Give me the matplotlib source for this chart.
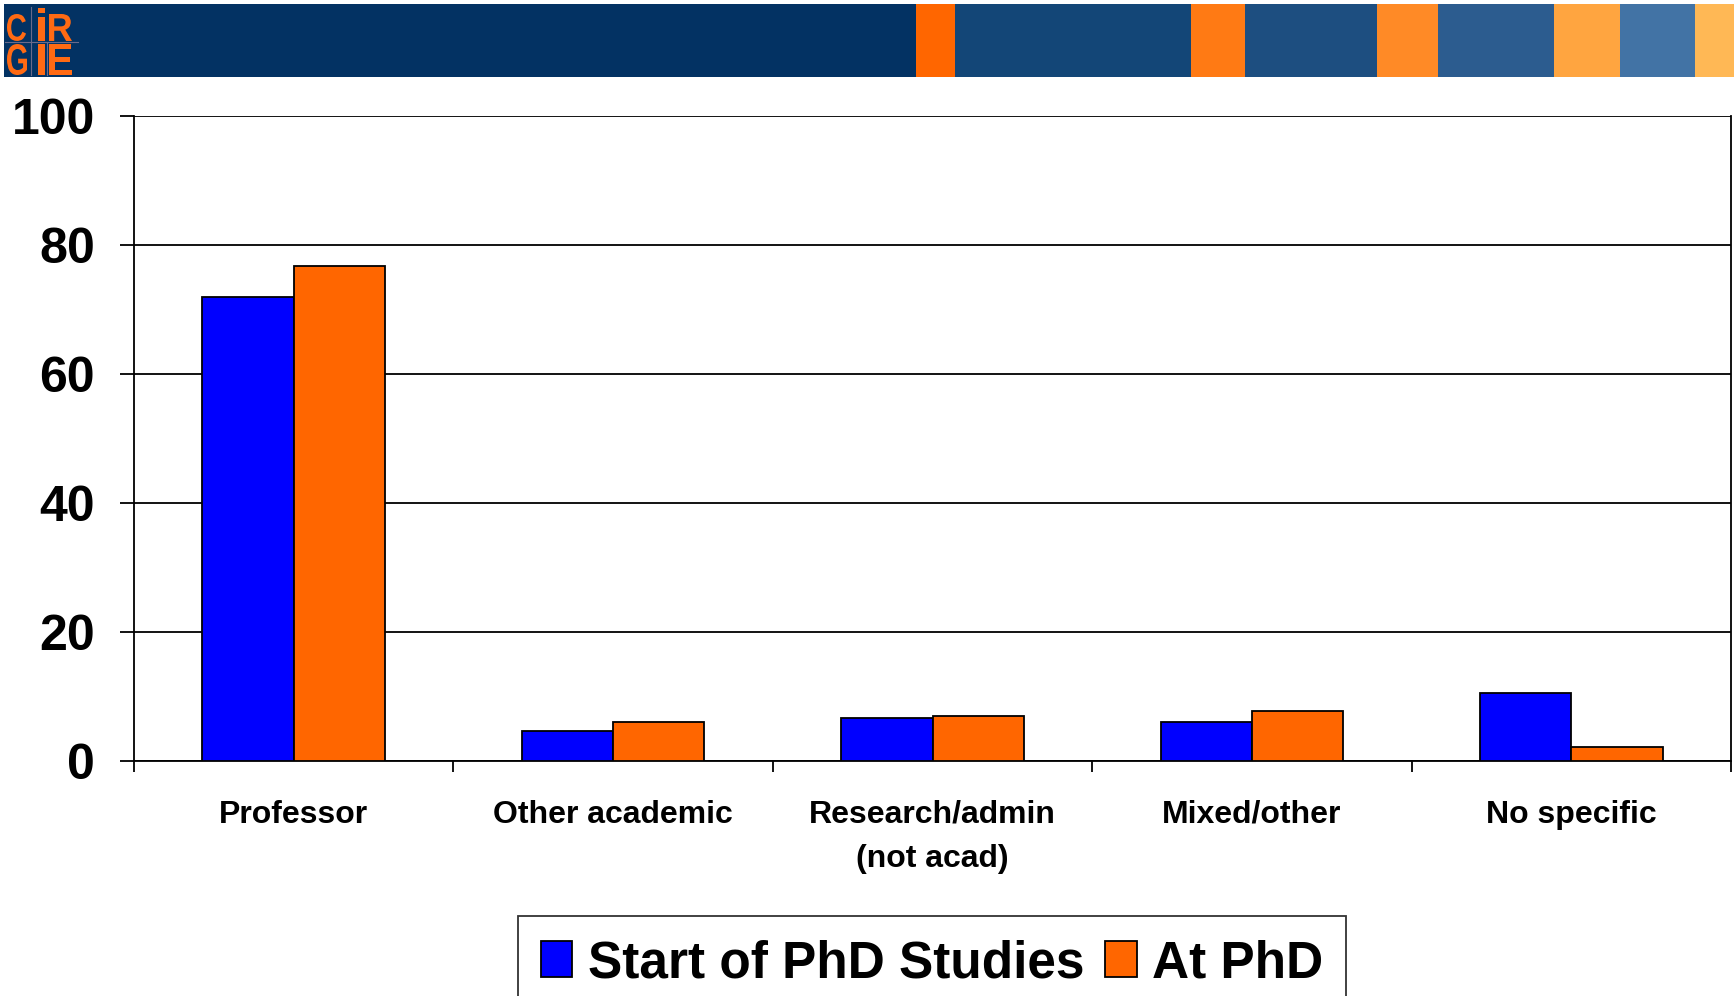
import matplotlib
matplotlib.use("Agg")
import matplotlib.pyplot as plt
from matplotlib.patches import Rectangle, PathPatch
from matplotlib.textpath import TextPath
from matplotlib.font_manager import FontProperties
from matplotlib.transforms import Affine2D
import numpy as np

categories = ["Professor", "Other academic", "Research/admin\n(not acad)", "Mixed/other", "No specific"]
start_phd = [72.0, 4.6, 6.7, 6.0, 10.5]
at_phd = [76.7, 6.0, 7.0, 7.7, 2.2]
series_names = ["Start of PhD Studies", "At PhD"]
series_colors = ["#0000FF", "#FF6600"]
y_ticks = [0, 20, 40, 60, 80, 100]

# decorative header banner (pixel edges, colors)
banner_edges = [4, 916, 955, 1191, 1245, 1377, 1438, 1554, 1620, 1695, 1734]
banner_colors = ["#033263", "#FF6600", "#134677", "#FF7A14", "#1D4E80",
                 "#FF8A26", "#2C5C8F", "#FFA540", "#4273A5", "#FFB855"]

plt.rcParams['font.family'] = ['Liberation Sans', 'DejaVu Sans']

W, H = 1734, 996
fig = plt.figure(figsize=(W / 100, H / 100), dpi=100)

# header banner (pixel coordinates: x 0..W, y 0..73 from bottom of banner)
BH = 73
bax = fig.add_axes([0, 1 - 77 / H, 1, BH / H])
bax.set_xlim(0, W)
bax.set_ylim(0, BH)
bax.axis("off")
for i, c in enumerate(banner_colors):
    bax.add_patch(Rectangle((banner_edges[i], 0), banner_edges[i + 1] - banner_edges[i], BH,
                            facecolor=c, edgecolor="none"))

fp = FontProperties(family="Liberation Sans", weight="bold")
# letter, left x, bottom y, width, height (pixels)
logo = [("C", 7, 36, 19, 27), ("i", 38, 36, 7, 33), ("R", 49, 36, 23, 27),
        ("G", 7, 2, 20, 31), ("I", 38, 2, 7, 31), ("E", 49, 2, 23, 31)]
for ch, lx, ly, lw_, lh in logo:
    tp = TextPath((0, 0), ch, size=100, prop=fp)
    ext = tp.get_extents()
    tr = (Affine2D().translate(-ext.x0, -ext.y0)
          .scale(lw_ / ext.width, lh / ext.height).translate(lx, ly))
    bax.add_patch(PathPatch(tr.transform_path(tp), facecolor="#FF6A13", edgecolor="none"))
bax.plot([5, 78], [34.5, 34.5], color="#6a6a8a", lw=0.8)
bax.plot([31, 31], [2, 70], color="#6a6a8a", lw=0.8)
bax.plot([47, 47], [2, 34], color="#6a6a8a", lw=0.8)

# main axes
left, right, top, bottom = 134, 1731, 116, 761
ax = fig.add_axes([left / W, 1 - bottom / H, (right - left) / W, (bottom - top) / H])

n = len(categories)
x = np.arange(n)
bw = 0.2857
ax.bar(x - bw / 2, start_phd, bw, color=series_colors[0], edgecolor="black", linewidth=1.3,
       label=series_names[0], zorder=3)
ax.bar(x + bw / 2, at_phd, bw, color=series_colors[1], edgecolor="black", linewidth=1.3,
       label=series_names[1], zorder=3)

ax.set_xlim(-0.5, n - 0.5)
ax.set_ylim(0, 100)
ax.set_yticks(y_ticks)
ax.set_yticklabels([str(v) for v in y_ticks], fontsize=36, fontweight="bold")
ax.yaxis.grid(True, color="black", linewidth=1.3, zorder=0)
ax.set_axisbelow(True)

ax.set_xticks(x)
ax.set_xticklabels(categories, fontsize=23, fontweight="bold", linespacing=1.6)
ax.set_xticks(np.arange(n + 1) - 0.5, minor=True)
ax.tick_params(axis="x", which="major", length=0, pad=28)
ax.tick_params(axis="x", which="minor", length=8, width=1.3, direction="out")
ax.tick_params(axis="y", which="major", length=10, width=1.3, direction="out", pad=18)

for s in ["left", "right", "bottom"]:
    ax.spines[s].set_linewidth(1.3)
ax.spines["top"].set_visible(False)
ax.spines["right"].set_visible(True)

leg = fig.legend(loc="upper center", bbox_to_anchor=(932 / W, 1 - 916 / H), ncol=2,
                 prop={"weight": "bold", "size": 37},
                 frameon=True, fancybox=False, shadow=False,
                 handlelength=0.62, handleheight=0.72, handletextpad=0.3,
                 columnspacing=0.4, borderpad=0.45, borderaxespad=0)
leg.get_frame().set_edgecolor("black")
leg.get_frame().set_linewidth(1.3)

fig.savefig("out.png", dpi=100)
